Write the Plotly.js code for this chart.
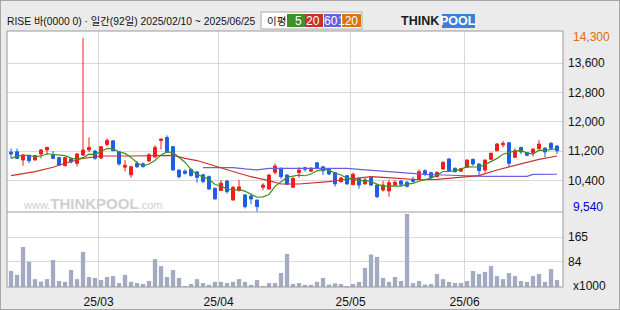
<!DOCTYPE html>
<html><head><meta charset="utf-8">
<script src="https://cdn.plot.ly/plotly-3.0.1.min.js"></script>
<style>
html,body{margin:0;padding:0;background:#ebebeb;}
#wrap{position:relative;width:620px;height:310px;}
#chart{width:620px;height:310px;}
#frame{position:absolute;left:0;top:0;width:618px;height:308px;border:1px solid #a6a6a6;pointer-events:none;}
</style></head>
<body><div id="wrap"><div id="chart"></div><div id="frame"></div></div>
<script>
// ---- data ----
const dates = [
'2025-02-10','2025-02-11','2025-02-12','2025-02-13','2025-02-14',
'2025-02-17','2025-02-18','2025-02-19','2025-02-20','2025-02-21',
'2025-02-24','2025-02-25','2025-02-26','2025-02-27','2025-02-28',
'2025-03-04','2025-03-05','2025-03-06','2025-03-07',
'2025-03-10','2025-03-11','2025-03-12','2025-03-13','2025-03-14',
'2025-03-17','2025-03-18','2025-03-19','2025-03-20','2025-03-21',
'2025-03-24','2025-03-25','2025-03-26','2025-03-27','2025-03-28','2025-03-31',
'2025-04-01','2025-04-02','2025-04-03','2025-04-04',
'2025-04-07','2025-04-08','2025-04-09','2025-04-10','2025-04-11',
'2025-04-14','2025-04-15','2025-04-16','2025-04-17','2025-04-18',
'2025-04-21','2025-04-22','2025-04-23','2025-04-24','2025-04-25',
'2025-04-28','2025-04-29','2025-04-30',
'2025-05-02','2025-05-07','2025-05-08','2025-05-09',
'2025-05-12','2025-05-13','2025-05-14','2025-05-15','2025-05-16',
'2025-05-19','2025-05-20','2025-05-21','2025-05-22','2025-05-23',
'2025-05-26','2025-05-27','2025-05-28','2025-05-29','2025-05-30',
'2025-06-02','2025-06-04','2025-06-05',
'2025-06-09','2025-06-10','2025-06-11','2025-06-12','2025-06-13',
'2025-06-16','2025-06-17','2025-06-18','2025-06-19','2025-06-20',
'2025-06-23','2025-06-24','2025-06-25'];

const open = [11170,11180,10955,11085,10955,11120,11230,11090,11020,10800,
10990,10865,11092,11229,11200,11010,11380,11480,11180,10760,
10550,10860,10850,10930,11040,11490,11570,11320,10680,10650,
10700,10630,10550,10500,10180,10120,10380,9860,10120,10000,
9970,9860,10210,10160,10620,10730,10545,10210,10610,10745,
10650,10880,10770,10700,10610,10362,10526,10280,10455,10300,
10480,10272,10135,10107,10272,10381,10345,10427,10427,10663,
10609,10499,10709,10983,10728,10650,10755,10974,10846,10682,
10974,11210,11370,11428,11029,11302,11155,11155,11265,11283,
11412,11338];
const high = [11270,11270,11120,11090,11090,11250,11320,11200,11040,11040,
11020,11150,14300,11576,11230,11340,11550,11490,11190,10955,
10800,10930,10890,11140,11360,11530,11630,11330,10690,10700,
10720,10650,10570,10530,10200,10410,10410,10240,10410,10020,
10040,9870,10320,10570,10860,10745,10560,10480,10755,10770,
10765,10890,10790,10720,10620,10490,10530,10610,10470,10470,
10490,10280,10390,10420,10400,10400,10381,10500,10700,10700,
10636,10640,10920,11000,10750,10740,10970,10990,10860,10970,
11160,11420,11475,11440,11275,11310,11170,11270,11503,11290,
11440,11350];
const low = [10990,10980,10800,10870,10940,11000,11090,10980,10800,10780,
10860,10780,11060,11170,10960,10980,11320,11200,10800,10640,
10470,10740,10745,10900,11000,11240,11160,10670,10450,10560,
10500,10330,10320,10150,9880,10110,10040,9850,10090,9630,
9750,9540,10130,10150,10560,10440,10270,10200,10470,10640,
10625,10700,10545,10540,10226,10340,10280,10270,10170,10290,
10245,9910,10090,9952,10230,10245,10200,10335,10410,10518,
10454,10480,10680,10636,10610,10630,10740,10790,10526,10609,
10960,11190,11300,10755,11010,11119,11060,11046,11250,11029,
11260,11119];
const close = [11120,11000,11090,10935,11075,11230,11300,11000,10820,11020,
10900,11120,11229,11300,11000,11320,11490,11210,10850,10810,
10770,10770,10775,11100,11300,11530,11170,10680,10500,10590,
10530,10480,10370,10160,9890,10320,10090,10210,10220,9680,
9890,9680,10270,10545,10790,10500,10290,10455,10680,10700,
10728,10730,10660,10570,10300,10463,10300,10564,10272,10410,
10272,9952,10272,10335,10345,10290,10235,10370,10636,10572,
10482,10618,10892,10663,10636,10720,10955,10846,10663,10955,
11138,11393,11410,10865,11210,11174,11084,11256,11393,11174,
11275,11210];
const volume = [53,40,132,83,26,18,26,89,20,17,
56,26,116,33,30,23,33,36,13,40,
17,13,10,20,92,69,33,56,30,3,
10,26,13,7,17,17,13,17,26,17,
7,23,3,13,13,46,109,10,13,7,
7,17,30,8,12,10,3,10,17,63,
107,99,30,17,33,20,241,13,20,8,
10,43,26,17,13,13,20,53,43,50,
69,36,26,46,36,20,17,36,43,17,
59,23];
const ma5 = [11000,11060,11080,11080,11044,11066,11126,11108,11085,11074,
11008,10972,11018,11114,11110,11194,11268,11264,11174,11136,
11026,10882,10795,10845,10943,11095,11175,11156,11036,10894,
10694,10556,10494,10426,10286,10244,10166,10134,10146,10104,
10018,9936,9948,10013,10235,10357,10479,10516,10543,10525,
10571,10659,10700,10678,10598,10545,10459,10439,10380,10402,
10364,10294,10236,10248,10235,10239,10295,10315,10375,10421,
10459,10536,10640,10645,10658,10706,10773,10764,10764,10828,
10911,10999,11112,11152,11203,11210,11149,11118,11223,11216,
11236,11262];
const ma20Idx = [0,4,7,9,12,15,20,25,27,29,31,37,40,43,45,48,50,53,55,58,60,62,65,68,71,75,78,81,85,88,91];
const ma20 = [10526,10635,10756,10865,11002,11065,11065,11070,11080,11002,10940,10640,10498,10389,10299,10299,10318,10362,10408,10455,10498,10482,10440,10415,10427,10482,10526,10682,10838,10974,11065];
const ma60Idx = [32,37,39,41,43,47,56,58,60,62,64,66,69,72,76,79,83,86,87,91];
const ma60 = [10745,10745,10710,10685,10728,10728,10728,10700,10672,10645,10620,10591,10560,10545,10520,10510,10505,10510,10560,10565];
const priceTicks = [10400,11200,12000,12800,13600];
const volTicks = [84,165];
const maxLabel = '14,300', minLabel = '9,540';
const titleText = 'RISE 바(0000 0) · 일간(92일) 2025/02/10 ~ 2025/06/25';
const legendNames = ['5','20','60','120'];

// ---- derived ----
const xi = dates.map((d,i)=>i);
const monthIdx = [], monthTxt = [];
dates.forEach((d,i)=>{ if(i>0 && d.slice(5,7)!==dates[i-1].slice(5,7)){ monthIdx.push(i-0.4); monthTxt.push(d.slice(2,4)+'/'+d.slice(5,7)); }});
const fmt = v => v.toLocaleString('en-US');

// pixel helpers (plot area: x 7..563, y 31..287)
const L=7,R=563,T=31,B=287;
const px = p => (p-L)/(R-L);
const py = p => (B-p)/(B-T);
const volDomTop = (B-212)/(B-T);

const FONT = 'Liberation Sans, Arial, Noto Sans CJK KR, sans-serif';

const traces = [
 {type:'scatter',mode:'lines',x:ma60Idx,y:ma60,line:{color:'#6a5ee0',width:1.2},xaxis:'x',yaxis:'y',hoverinfo:'skip'},
 {type:'scatter',mode:'lines',x:ma20Idx,y:ma20,line:{color:'#c8322d',width:1.2},xaxis:'x',yaxis:'y',hoverinfo:'skip'},
 {type:'scatter',mode:'lines',x:xi,y:ma5,line:{color:'#3c9020',width:1.2},xaxis:'x',yaxis:'y',hoverinfo:'skip'},
 {type:'candlestick',x:xi,open:open,high:high,low:low,close:close,xaxis:'x',yaxis:'y',whiskerwidth:0,
  increasing:{line:{color:'#f21d1d',width:1},fillcolor:'#f21d1d'},
  decreasing:{line:{color:'#1e5ee6',width:1},fillcolor:'#1e5ee6'},hoverinfo:'skip'},
 {type:'bar',x:xi,y:volume,xaxis:'x',yaxis:'y2',marker:{color:'#a3abc3',line:{width:0}},hoverinfo:'skip'}
];

const gridc = '#d9d9d9';
const ann = [];
const shapes = [];
// title
ann.push({xref:'paper',yref:'paper',x:px(5),y:py(21.5),xanchor:'left',yanchor:'middle',showarrow:false,
  text:titleText,font:{family:FONT,size:10.3,color:'#111'}});
// legend box
shapes.push({type:'rect',xref:'paper',yref:'paper',x0:px(261),x1:px(362),y0:py(29),y1:py(12),fillcolor:'#fff',line:{color:'#aaaaaa',width:1}});
ann.push({xref:'paper',yref:'paper',x:px(265),y:py(20.5),xanchor:'left',yanchor:'middle',showarrow:false,text:'이평',font:{family:FONT,size:10.5,color:'#111'}});
const legCols = ['#3f8f2b','#c8312c','#6661df','#dc740e'];
const legX = [[287,305],[305,323],[324,341],[342,361]];
legendNames.forEach((n,k)=>{
  shapes.push({type:'rect',xref:'paper',yref:'paper',x0:px(legX[k][0]),x1:px(legX[k][1]),y0:py(27),y1:py(14),fillcolor:legCols[k],line:{width:0}});
  ann.push({xref:'paper',yref:'paper',x:px(legX[k][1]-1),y:py(20.5),xanchor:'right',yanchor:'middle',showarrow:false,text:n,font:{family:FONT,size:12,color:'#fff'}});
});
// logo
ann.push({xref:'paper',yref:'paper',x:px(441),y:py(21),xanchor:'right',yanchor:'middle',showarrow:false,text:'<b>THINK</b>',font:{family:FONT,size:12.5,color:'#1a1a1a'}});
shapes.push({type:'rect',xref:'paper',yref:'paper',x0:px(442),x1:px(475),y0:py(28),y1:py(14),fillcolor:'#3b7fd6',line:{width:0}});
ann.push({xref:'paper',yref:'paper',x:px(458.5),y:py(21),xanchor:'center',yanchor:'middle',showarrow:false,text:'<b>POOL</b>',font:{family:FONT,size:12.5,color:'#fff'}});
// watermark
ann.push({xref:'paper',yref:'paper',x:px(92),y:py(203),xanchor:'center',yanchor:'middle',showarrow:false,
  text:'<span style="font-size:11px">www.</span><b>THINKPOOL</b><span style="font-size:11px">.com</span>',font:{family:FONT,size:15,color:'#cfcfcf'}});
// max/min labels
ann.push({xref:'paper',yref:'paper',x:px(571),y:py(37),xanchor:'left',yanchor:'middle',showarrow:false,text:maxLabel,font:{family:FONT,size:12,color:'#dc6e00'}});
ann.push({xref:'paper',yref:'paper',x:px(571),y:py(207),xanchor:'left',yanchor:'middle',showarrow:false,text:minLabel,font:{family:FONT,size:12,color:'#0000d0'}});
ann.push({xref:'paper',yref:'paper',x:px(571),y:py(286),xanchor:'left',yanchor:'middle',showarrow:false,text:'x1000',font:{family:FONT,size:12,color:'#111'}});
// frames
shapes.push({type:'rect',xref:'paper',yref:'paper',x0:0,x1:1,y0:0,y1:1,line:{color:'#9a9a9a',width:1},fillcolor:'rgba(0,0,0,0)'});
shapes.push({type:'line',xref:'paper',yref:'paper',x0:0,x1:1,y0:volDomTop,y1:volDomTop,line:{color:'#9a9a9a',width:1}});

const layout = {
  width:620,height:310,margin:{l:L,r:620-R,t:T,b:310-B,pad:0},
  paper_bgcolor:'#ebebeb',plot_bgcolor:'#ffffff',showlegend:false,bargap:0.28,
  xaxis:{range:[-0.67,92],tickvals:monthIdx,ticktext:monthTxt,showgrid:true,gridcolor:gridc,gridwidth:1,
    zeroline:false,showline:false,ticks:'',anchor:'y2',rangeslider:{visible:false},ticklabelstandoff:6,
    tickfont:{family:FONT,size:12,color:'#111'},fixedrange:true},
  yaxis:{domain:[volDomTop,1],side:'right',range:[9533,14483],tickvals:priceTicks,ticktext:priceTicks.map(fmt),
    showgrid:true,gridcolor:gridc,zeroline:false,showline:false,ticks:'',ticklabelstandoff:4,
    tickfont:{family:FONT,size:12,color:'#111'},fixedrange:true},
  yaxis2:{domain:[0,volDomTop],side:'right',range:[0,247.5],tickvals:volTicks,ticktext:volTicks.map(String),
    showgrid:true,gridcolor:gridc,zeroline:false,showline:false,ticks:'',ticklabelstandoff:4,
    tickfont:{family:FONT,size:12,color:'#111'},fixedrange:true},
  annotations:ann,shapes:shapes
};
Plotly.newPlot('chart',traces,layout,{staticPlot:true,displayModeBar:false});
</script></body></html>
